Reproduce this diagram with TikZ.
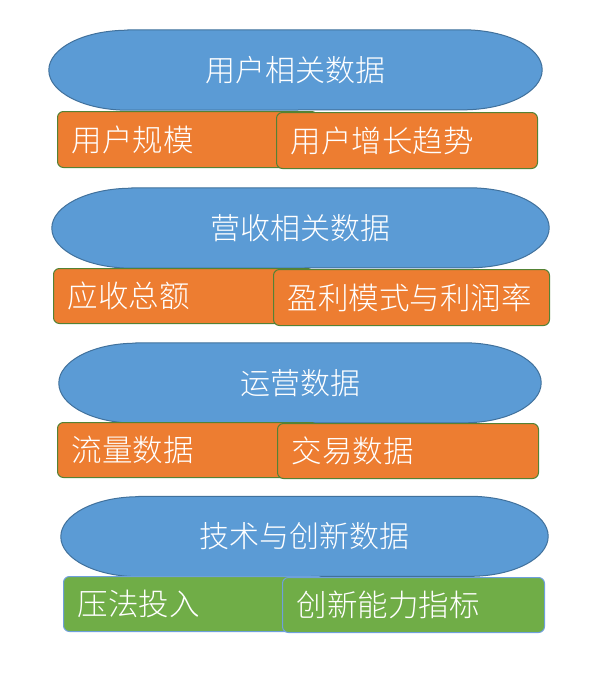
\documentclass[tikz,border=0pt]{standalone}
\usepackage{fontspec}
\setmainfont{Noto Sans CJK SC}[UprightFont={* Light}]
\definecolor{topblue}{HTML}{5B9BD5}
\definecolor{topline}{HTML}{41719C}
\definecolor{suborange}{HTML}{ED7D31}
\definecolor{subline}{HTML}{548235}
\definecolor{subgreen}{HTML}{70AD47}
\definecolor{greenline}{HTML}{6FA0DC}
\pgfdeclarelayer{back}
\pgfsetlayers{back,main}
% terminator outline behind a topic node: #1 node, #2 end radius
\newcommand{\ovalback}[2]{%
  \begin{pgfonlayer}{back}
  \path[ovalfill] ([xshift=#2]#1.north west) -- ([xshift=-#2]#1.north east)
    arc[start angle=90,end angle=-90,x radius=#2,y radius=40pt]
    -- ([xshift=#2]#1.south west)
    arc[start angle=270,end angle=90,x radius=#2,y radius=40pt] -- cycle;
  \end{pgfonlayer}}
\begin{document}
\begin{tikzpicture}[x=1pt,y=-1pt,
  ovalfill/.style={draw=topline,fill=topblue,line width=1pt},
  topic/.style={rectangle,inner sep=0pt,text=white,minimum height=80pt,
    font=\fontsize{30}{33}\selectfont},
  item/.style={rectangle,rounded corners=6pt,draw=subline,fill=suborange,line width=1pt,
    text=white,anchor=north west,minimum height=56pt,inner xsep=14pt,align=left,
    font=\fontsize{30.5}{33}\selectfont},
  greenitem/.style={item,draw=greenline,fill=subgreen}]
\begin{pgfonlayer}{back}
\fill[white] (0,0) rectangle (600,683);
\end{pgfonlayer}
\useasboundingbox (0,0) rectangle (600,683);
% user data
\node[topic,minimum width=493pt] (user) at (295.5,70) {用户相关数据};
\ovalback{user}{79pt}
\node[item,text width=232pt] (userscale) at (57,111) {用户规模};
\node[item,text width=233pt] (usertrend) at (276,112) {用户增长趋势};
% revenue data
\node[topic,minimum width=497pt] (revenue) at (300.5,228) {营收相关数据};
\ovalback{revenue}{80pt}
\node[item,text width=232pt,minimum height=55pt] (income) at (53,268) {应收总额};
\node[item,text width=248pt] (profit) at (273,269) {盈利模式与利润率};
% operation data
\node[topic,minimum width=482pt] (operation) at (300,383) {运营数据};
\ovalback{operation}{77pt}
\node[item,text width=232pt,minimum height=55pt] (traffic) at (57,422) {流量数据};
\node[item,text width=233pt,minimum height=55pt] (trade) at (277,423) {交易数据};
% tech data
\node[topic,minimum width=487pt] (tech) at (304.5,536.5) {技术与创新数据};
\ovalback{tech}{78pt}
\node[greenitem,text width=232pt,minimum height=55pt] (invest) at (63,576) {压法投入};
\node[greenitem,text width=234pt,minimum height=55pt] (innovation) at (282,577) {创新能力指标};
\end{tikzpicture}
\end{document}
